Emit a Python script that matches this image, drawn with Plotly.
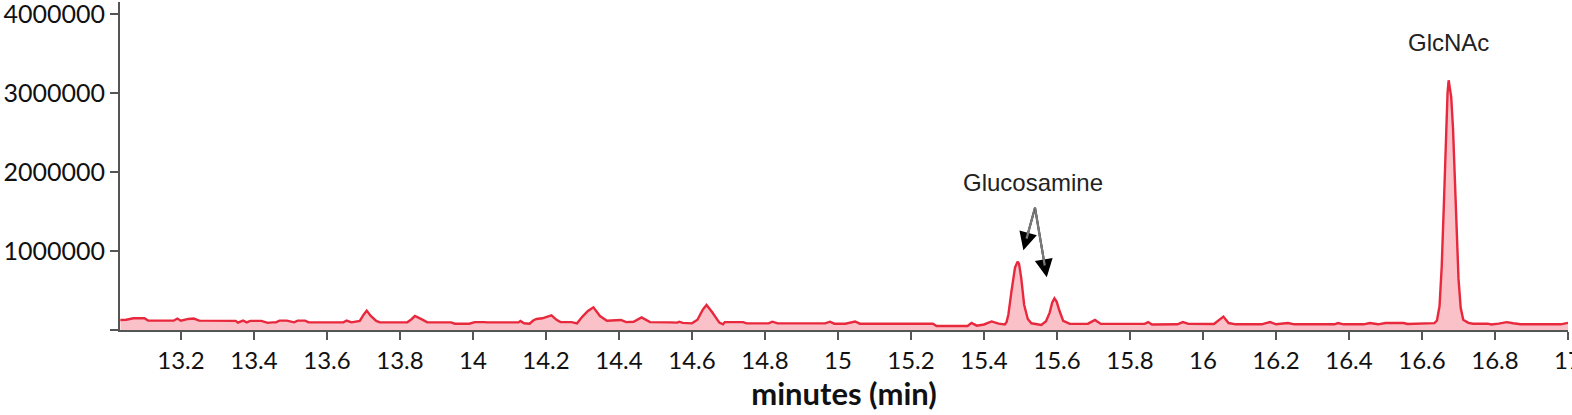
import plotly.graph_objects as go

# Retention time (min) and detector intensity (counts)
time_min = [
    13.034, 13.05, 13.07, 13.10, 13.11, 13.18, 13.19, 13.20, 13.22, 13.235,
    13.25, 13.35, 13.356, 13.37, 13.38, 13.39, 13.42, 13.438, 13.45, 13.46,
    13.47, 13.49, 13.51, 13.52, 13.54, 13.55, 13.645, 13.654, 13.667, 13.69,
    13.70, 13.709, 13.72, 13.735, 13.745, 13.82, 13.83, 13.841, 13.86, 13.875,
    13.94, 13.95, 13.99, 14.005, 14.03, 14.04, 14.125, 14.13, 14.14, 14.155,
    14.165, 14.174, 14.19, 14.205, 14.215, 14.23, 14.24, 14.27, 14.285, 14.30,
    14.315, 14.33, 14.348, 14.367, 14.39, 14.405, 14.42, 14.44, 14.462, 14.485,
    14.54, 14.56, 14.565, 14.575, 14.60, 14.615, 14.63, 14.64, 14.655, 14.675,
    14.685, 14.69, 14.74, 14.75, 14.81, 14.82, 14.835, 14.965, 14.978, 14.99,
    15.02, 15.047, 15.06, 15.26, 15.27, 15.355, 15.366, 15.38, 15.40, 15.421,
    15.44, 15.457, 15.462, 15.467, 15.475, 15.485, 15.492, 15.496, 15.502, 15.51,
    15.52, 15.53, 15.557, 15.57, 15.58, 15.587, 15.593, 15.599, 15.607, 15.617,
    15.635, 15.685, 15.704, 15.72, 15.84, 15.85, 15.86, 15.93, 15.945, 15.96,
    16.03, 16.045, 16.056, 16.07, 16.09, 16.16, 16.184, 16.20, 16.22, 16.233,
    16.25, 16.36, 16.37, 16.385, 16.44, 16.457, 16.48, 16.50, 16.55, 16.56,
    16.634, 16.641, 16.648, 16.654, 16.66, 16.666, 16.67, 16.673, 16.676, 16.68,
    16.685, 16.69, 16.695, 16.70, 16.706, 16.713, 16.727, 16.74, 16.78, 16.79,
    16.81, 16.832, 16.85, 16.87, 16.98, 16.996, 17.0,
]
intensity = [
    127000, 130000, 148000, 148000, 120000, 118000, 145000, 118000, 140000, 145000,
    118000, 115000, 93000, 120000, 97000, 115000, 115000, 90000, 97000, 97000,
    118000, 118000, 97000, 118000, 118000, 97000, 97000, 120000, 97000, 115000,
    190000, 245000, 177000, 115000, 97000, 97000, 130000, 177000, 135000, 97000,
    97000, 80000, 80000, 100000, 100000, 97000, 97000, 115000, 85000, 80000,
    120000, 139000, 148000, 170000, 186000, 125000, 100000, 100000, 84000, 170000,
    240000, 287000, 177000, 118000, 118000, 127000, 100000, 105000, 160000, 100000,
    97000, 93000, 105000, 90000, 84000, 130000, 260000, 316000, 228000, 93000,
    72000, 100000, 100000, 84000, 84000, 105000, 84000, 84000, 105000, 80000,
    80000, 108000, 80000, 80000, 50000, 50000, 90000, 55000, 70000, 108000,
    80000, 70000, 100000, 200000, 480000, 790000, 865000, 840000, 660000, 320000,
    140000, 85000, 65000, 110000, 220000, 350000, 400000, 360000, 240000, 115000,
    77000, 80000, 127000, 77000, 77000, 100000, 70000, 72000, 100000, 77000,
    76000, 130000, 170000, 88000, 72000, 72000, 100000, 72000, 78000, 88000,
    72000, 72000, 88000, 72000, 72000, 88000, 72000, 88000, 88000, 76000,
    87000, 120000, 300000, 800000, 1600000, 2500000, 3000000, 3160000, 3050000, 2950000,
    2550000, 1950000, 1250000, 650000, 280000, 130000, 90000, 80000, 80000, 70000,
    80000, 100000, 85000, 72000, 72000, 88000, 90000,
]

x_tick_vals = [13.2, 13.4, 13.6, 13.8, 14, 14.2, 14.4, 14.6, 14.8, 15, 15.2,
               15.4, 15.6, 15.8, 16, 16.2, 16.4, 16.6, 16.8, 17]
x_tick_text = ["13.2", "13.4", "13.6", "13.8", "14", "14.2", "14.4", "14.6",
               "14.8", "15", "15.2", "15.4", "15.6", "15.8", "16", "16.2",
               "16.4", "16.6", "16.8", "17"]
y_tick_vals = [0, 1000000, 2000000, 3000000, 4000000]
y_tick_text = ["", "1000000", "2000000", "3000000", "4000000"]

x_title = "minutes (min)"
label_glcnac = "GlcNAc"
label_glucosamine = "Glucosamine"
# annotation anchor positions (data coords)
glcnac_pos = (16.672, 3640000)
glucosamine_pos = (15.535, 1860000)
# arrow tip (data coords) and tail offset (pixels)
arrow_tips = [(15.508, 1010000, 12, -44), (15.572, 667000, -12, -71)]

fig = go.Figure()
fig.add_trace(go.Scatter(
    x=time_min, y=intensity, mode="lines",
    line=dict(color="#e8283c", width=2.4),
    fill="tozeroy", fillcolor="rgba(242,110,125,0.42)",
    hoverinfo="skip", showlegend=False,
))

annotations = [
    dict(x=glcnac_pos[0], y=glcnac_pos[1], text=label_glcnac, showarrow=False,
         font=dict(family="Liberation Sans, Arial", size=24, color="#222222")),
    dict(x=glucosamine_pos[0], y=glucosamine_pos[1], text=label_glucosamine,
         showarrow=False,
         font=dict(family="Liberation Sans, Arial", size=24, color="#222222")),
]
for tx, ty, ax, ay in arrow_tips:
    # black arrow with head (the shaft gets covered by the grey line)
    annotations.append(dict(x=tx, y=ty, ax=ax, ay=ay, text="", showarrow=True,
                            arrowhead=2, arrowsize=1.8, arrowwidth=2,
                            arrowcolor="#000000"))
    # grey shaft stopping short of the head
    annotations.append(dict(x=tx, y=ty, ax=ax, ay=ay, text="", showarrow=True,
                            arrowhead=0, arrowwidth=2.2, standoff=12,
                            arrowcolor="#7a7a7a"))

fig.update_layout(
    width=1572, height=415,
    margin=dict(l=120, r=4, t=2, b=85),
    paper_bgcolor="white", plot_bgcolor="white",
    font=dict(family="Lato, Carlito, sans-serif", color="#111111"),
    annotations=annotations,
    xaxis=dict(
        range=[13.033, 17.0], tickvals=x_tick_vals, ticktext=x_tick_text,
        automargin=False, ticklabeloverflow="allow",
        showgrid=False, zeroline=False, showline=True, linecolor="#555555",
        linewidth=2, ticks="outside", ticklen=8, tickwidth=2, tickcolor="#555555",
        tickfont=dict(size=24, family="Lato", color="#111111"),
        title=dict(text="<b>" + x_title + "</b>", standoff=4,
                   font=dict(size=31, family="Lato", color="#111111")),
    ),
    yaxis=dict(
        range=[0, 4150000], tickvals=y_tick_vals, ticktext=y_tick_text,
        automargin=False, ticklabeloverflow="allow",
        showgrid=False, zeroline=False, showline=True, linecolor="#555555",
        linewidth=2, ticks="outside", ticklen=8, tickwidth=2, tickcolor="#555555",
        tickfont=dict(size=25, family="Lato", color="#111111"),
    ),
)

fig.write_html(
    "out.html",
    config={"displayModeBar": False},
    post_script="document.body.style.margin='0px';document.body.style.overflow='hidden';",
)
